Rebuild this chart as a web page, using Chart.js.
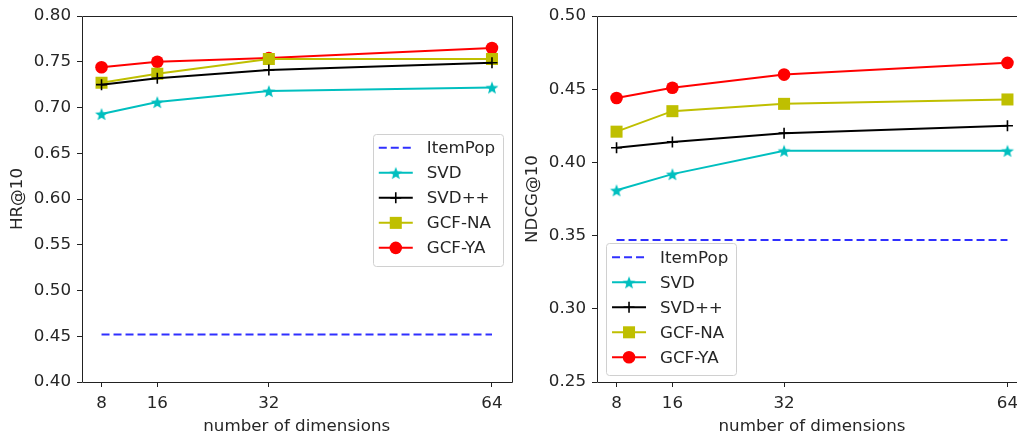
<!DOCTYPE html>
<html>
<head>
<meta charset="utf-8">
<script src="https://cdn.jsdelivr.net/npm/chart.js@4/dist/chart.umd.min.js"></script>
<style>
  html, body { margin: 0; padding: 0; background: #fff; overflow: hidden; }
  #wrap { position: relative; width: 1017px; height: 437px; overflow: hidden; }
  canvas { position: absolute; top: 0; }
</style>
</head>
<body>
<div id="wrap">
  <canvas id="hr" width="520" height="437" style="left:0"></canvas>
  <canvas id="ndcg" width="560" height="437" style="left:520px"></canvas>
</div>
<script>
// embedding sizes on the x axis
const dims = [8, 16, 32, 64];
const seriesNames = ['ItemPop', 'SVD', 'SVD++', 'GCF-NA', 'GCF-YA'];

// HR@10
const hrItemPop = [0.452, 0.452, 0.452, 0.452];
const hrSVD     = [0.693, 0.706, 0.718, 0.722];
const hrSVDpp   = [0.725, 0.732, 0.741, 0.749];
const hrGCFNA   = [0.727, 0.737, 0.753, 0.753];
const hrGCFYA   = [0.744, 0.750, 0.754, 0.765];
const hrTicks   = [0.40, 0.45, 0.50, 0.55, 0.60, 0.65, 0.70, 0.75, 0.80];

// NDCG@10
const ndcgItemPop = [0.347, 0.347, 0.347, 0.347];
const ndcgSVD     = [0.381, 0.392, 0.408, 0.408];
const ndcgSVDpp   = [0.410, 0.414, 0.420, 0.425];
const ndcgGCFNA   = [0.421, 0.435, 0.440, 0.443];
const ndcgGCFYA   = [0.444, 0.451, 0.460, 0.468];
const ndcgTicks   = [0.25, 0.30, 0.35, 0.40, 0.45, 0.50];

const FONT = "'DejaVu Sans', sans-serif";
const FSIZE = 16.7;
Chart.defaults.font.family = FONT;
Chart.defaults.font.size = FSIZE;
Chart.defaults.color = '#262626';

// filled five-point star like matplotlib's '*'
function makeStar(color, r) {
  const c = document.createElement('canvas');
  const s = Math.ceil(r * 2 + 2);
  c.width = s; c.height = s;
  const g = c.getContext('2d');
  g.beginPath();
  for (let i = 0; i < 10; i++) {
    const rr = i % 2 === 0 ? r : r * 0.42;
    const a = -Math.PI / 2 + i * Math.PI / 5;
    const px = s / 2 + rr * Math.cos(a), py = s / 2 + rr * Math.sin(a) + 0.8;
    i === 0 ? g.moveTo(px, py) : g.lineTo(px, py);
  }
  g.closePath();
  g.fillStyle = color;
  g.fill();
  return c;
}
const starImg = makeStar('#00bfbf', 6.8);

const styles = [
  { color: '#3030ff', dash: [8, 4], point: false },
  { color: '#00bfbf', point: starImg, radius: 7 },
  { color: '#000000', point: 'cross', radius: 5.5 },
  { color: '#bfbf00', point: 'rect', radius: 8.5 },
  { color: '#ff0000', point: 'circle', radius: 6.3 }
];

function buildSets(values) {
  return values.map((vals, i) => {
    const st = styles[i];
    return {
      label: seriesNames[i],
      data: dims.map((d, j) => ({ x: d, y: vals[j] })),
      borderColor: st.color,
      backgroundColor: st.color,
      borderWidth: 2,
      borderDash: st.dash || [],
      pointStyle: st.point || 'circle',
      pointRadius: st.point ? st.radius : 0,
      pointBorderWidth: st.point === 'cross' ? 1.6 : 0,
      pointBorderColor: st.color,
      tension: 0
    };
  });
}

// spines on all four sides of the plot area
const framePlugin = {
  id: 'frame',
  afterDatasetsDraw(chart) {
    const a = chart.chartArea, ctx = chart.ctx;
    const l = Math.round(a.left) + 0.5, r = Math.round(a.right) + 0.5;
    const t = Math.round(a.top) + 0.5, b = Math.round(a.bottom) + 0.5;
    ctx.save();
    ctx.strokeStyle = '#222';
    ctx.lineWidth = 1;
    ctx.beginPath();
    ctx.moveTo(r, t); ctx.lineTo(l, t); ctx.lineTo(l, b); ctx.lineTo(r, b);
    ctx.moveTo(r, t); ctx.lineTo(r, b);
    ctx.stroke();
    ctx.restore();
  }
};

function drawMarker(ctx, ds, x, y) {
  const st = ds.pointStyle, r = ds.pointRadius;
  if (!r) return;
  ctx.fillStyle = ds.backgroundColor;
  ctx.strokeStyle = ds.borderColor;
  ctx.setLineDash([]);
  if (st instanceof HTMLCanvasElement) {
    ctx.drawImage(st, x - st.width / 2, y - st.height / 2);
  } else if (st === 'circle') {
    ctx.beginPath(); ctx.arc(x, y, r, 0, Math.PI * 2); ctx.fill();
  } else if (st === 'rect') {
    const s = r * Math.SQRT1_2;
    ctx.fillRect(x - s, y - s, 2 * s, 2 * s);
  } else if (st === 'cross') {
    ctx.lineWidth = ds.pointBorderWidth;
    ctx.beginPath();
    ctx.moveTo(x - r, y); ctx.lineTo(x + r, y);
    ctx.moveTo(x, y - r); ctx.lineTo(x, y + r);
    ctx.stroke();
  }
}

// legend drawn inside the axes, position given as fraction of the plot area
const boxLegend = {
  id: 'boxLegend',
  afterDraw(chart, args, opts) {
    const ctx = chart.ctx, a = chart.chartArea;
    ctx.save();
    ctx.font = FSIZE + 'px ' + FONT;
    const sets = chart.data.datasets;
    const tw = Math.max(...sets.map(d => ctx.measureText(d.label).width));
    const w = 6 + 34 + 14 + tw + 8, rowH = 25, h = rowH * sets.length + 7;
    const x0 = a.left + opts.fx * (a.right - a.left);
    const y0 = a.top + opts.fy * (a.bottom - a.top);
    ctx.fillStyle = 'rgba(255,255,255,0.85)';
    ctx.strokeStyle = '#d0d0d0';
    ctx.lineWidth = 1;
    ctx.beginPath();
    ctx.roundRect(Math.round(x0) + 0.5, Math.round(y0) + 0.5, Math.round(w), Math.round(h), 3);
    ctx.fill(); ctx.stroke();
    sets.forEach((ds, i) => {
      const cy = y0 + 14 + i * rowH;
      const lx = x0 + 6;
      ctx.strokeStyle = ds.borderColor;
      ctx.lineWidth = 2;
      ctx.setLineDash(ds.borderDash);
      ctx.beginPath(); ctx.moveTo(lx, cy); ctx.lineTo(lx + 34, cy); ctx.stroke();
      drawMarker(ctx, ds, lx + 17, cy);
      ctx.fillStyle = '#262626';
      ctx.textBaseline = 'middle';
      ctx.textAlign = 'left';
      ctx.fillText(ds.label, lx + 34 + 14, cy + 1);
    });
    ctx.restore();
  }
};

function makeChart(id, values, yTicks, yTitle, yAxisW, padRight, yTitlePad, legendPos) {
  return new Chart(document.getElementById(id), {
    type: 'line',
    data: { datasets: buildSets(values) },
    options: {
      responsive: false,
      animation: false,
      events: [],
      layout: { padding: { top: 15, right: padRight, bottom: 0, left: 0 } },
      plugins: {
        legend: { display: false },
        tooltip: { enabled: false },
        boxLegend: legendPos
      },
      scales: {
        x: {
          type: 'linear',
          min: 5.2,
          max: 66.8,
          afterBuildTicks(s) { s.ticks = dims.map(v => ({ value: v })); },
          afterFit(s) { s.height = 55; },
          ticks: { padding: 7, maxRotation: 0, autoSkip: false, callback: v => String(v) },
          grid: { drawOnChartArea: false, drawTicks: true, tickLength: 5, tickColor: '#222' },
          border: { display: false },
          title: { display: true, text: 'number of dimensions', padding: { top: 3, bottom: 0 } }
        },
        y: {
          min: yTicks[0],
          max: yTicks[yTicks.length - 1],
          afterBuildTicks(s) { s.ticks = yTicks.map(v => ({ value: v })); },
          afterFit(s) { s.width = yAxisW; },
          ticks: { padding: 6, callback: v => v.toFixed(2) },
          grid: { drawOnChartArea: false, drawTicks: true, tickLength: 5, tickColor: '#222' },
          border: { display: false },
          title: { display: true, text: yTitle, padding: { top: yTitlePad, bottom: 0 } }
        }
      }
    },
    plugins: [framePlugin, boxLegend]
  });
}

makeChart('hr', [hrItemPop, hrSVD, hrSVDpp, hrGCFNA, hrGCFYA], hrTicks, 'HR@10', 82, 8, 8,
  { fx: 0.677, fy: 0.322 });
// right panel runs past the window edge, so its right spine is cut off
makeChart('ndcg', [ndcgItemPop, ndcgSVD, ndcgSVDpp, ndcgGCFNA, ndcgGCFYA], ndcgTicks, 'NDCG@10', 77, 53, 3,
  { fx: 0.021, fy: 0.621 });
</script>
</body>
</html>
